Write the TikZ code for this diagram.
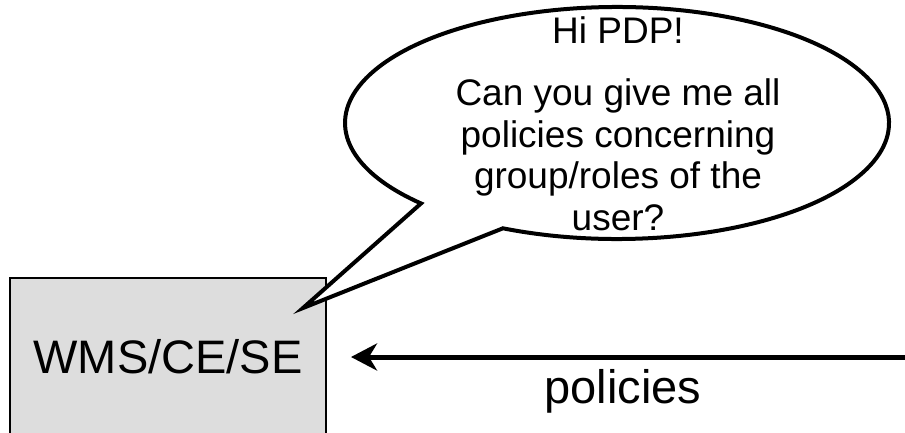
\documentclass[tikz,border=0pt]{standalone}
\usepackage{fontspec}
\setmainfont{Liberation Sans}
\usetikzlibrary{arrows.meta}
\definecolor{boxgray}{HTML}{DDDDDD}
\begin{document}
\begin{tikzpicture}[x=1pt,y=1pt,
  sysbox/.style={draw=black, line width=2pt, fill=boxgray, minimum width=316pt, minimum height=158pt, inner sep=0pt, font=\fontsize{47}{52}\selectfont},
  msgtext/.style={align=center, inner sep=0pt, font=\fontsize{37}{41.5}\selectfont},
  flow/.style={line width=5pt, -{Stealth[length=26pt,width=27pt,inset=8pt]}},
  lbl/.style={inner sep=0pt, font=\fontsize{47}{52}\selectfont}]
\clip (0,0) rectangle (905,432);
% system box
\node[sysbox] (sys) at (168,75) {WMS/CE/SE};
% speech bubble
\coordinate (tip) at (303,124);
\draw[line width=4pt, fill=white, line join=miter]
  ([shift={(223.9:272 and 116)}]617,309) -- (tip)
  -- ([shift={(245.2:272 and 116)}]617,309)
  arc[start angle=245.2, end angle=583.9, x radius=272, y radius=116] -- cycle;
\node[msgtext, anchor=base] (msg) at (618,202) {Hi PDP!\\[20.5pt]Can you give me all\\policies concerning\\group/roles of the\\user?};
% incoming policies
\coordinate (src) at (915,75);
\draw[flow] (src) -- ([xshift=24pt]sys.east);
\node[lbl, anchor=base] (pol) at (623,29) {policies};
\end{tikzpicture}
\end{document}
